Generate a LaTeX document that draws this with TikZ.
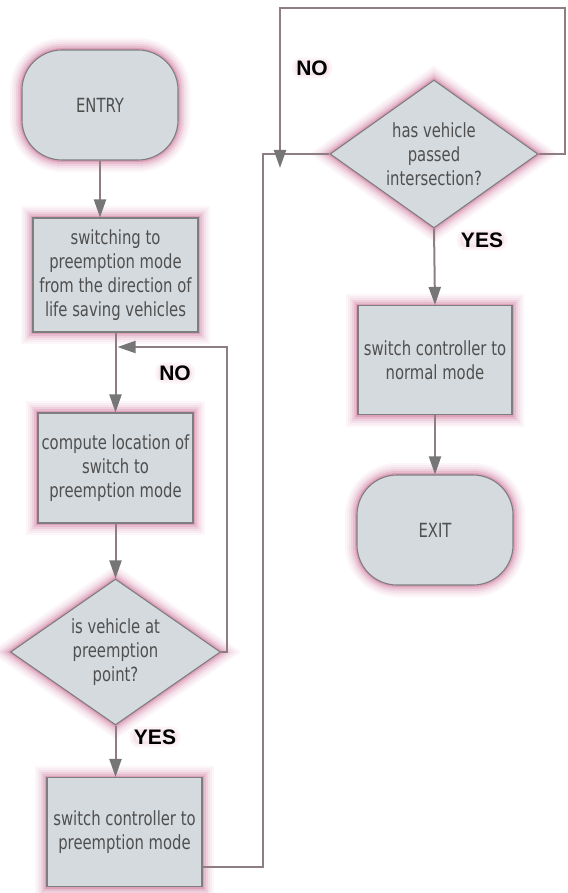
\documentclass[tikz,border=0pt]{standalone}
\usepackage{fontspec}
\setmainfont{DejaVu Sans}[FakeStretch=0.76]
\newfontfamily\labelfont{Liberation Sans}
\usetikzlibrary{arrows.meta,shapes.geometric}
\definecolor{boxfill}{HTML}{D5DADE}
\definecolor{boxline}{HTML}{7E7E7E}
\definecolor{glowpink}{HTML}{C8608A}
\definecolor{connline}{HTML}{8F7D84}
\definecolor{arrowgray}{HTML}{767676}
\definecolor{txtgray}{HTML}{4F4F4F}
\tikzset{
  glow/.style={
    preaction={draw=glowpink, line width=24pt, draw opacity=0.05},
    preaction={draw=glowpink, line width=20pt, draw opacity=0.06},
    preaction={draw=glowpink, line width=16pt, draw opacity=0.08},
    preaction={draw=glowpink, line width=12pt, draw opacity=0.12},
    preaction={draw=glowpink, line width=8pt, draw opacity=0.18},
    preaction={draw=glowpink, line width=4pt, draw opacity=0.30}},
  shapetext/.style={font=\fontsize{19.5}{24}\selectfont, text=txtgray, align=center},
  procbox/.style={glow, rectangle, draw=boxline, line width=1.1pt, fill=boxfill, shapetext, inner sep=0pt},
  termbox/.style={procbox, rounded corners=40pt},
  decbox/.style={glow, diamond, draw=boxline, line width=1.1pt, fill=boxfill, shapetext, inner sep=0pt, aspect=1.42},
  conn/.style={draw=connline, line width=2pt},
  arr/.style={conn, -{Triangle[width=12pt,length=18pt,color=arrowgray]}},
  yesno/.style={font=\labelfont\bfseries\fontsize{21}{24}\selectfont, text=black,
    inner xsep=1pt, inner ysep=0pt, rounded corners=6pt,
    preaction={draw=glowpink, line width=6pt, draw opacity=0.07},
    preaction={fill=glowpink, fill opacity=0.10}}
}
\begin{document}
\begin{tikzpicture}[x=1pt,y=-1pt]
\useasboundingbox[fill=white] (0,0) rectangle (567,893);

% nodes
\node[termbox, minimum width=156pt, minimum height=110pt] (entry) at (100,105) {ENTRY};
\node[procbox, minimum width=165pt, minimum height=114pt] (b1) at (115.5,275) {switching to\\preemption mode\\from the direction of\\life saving vehicles};
\node[procbox, minimum width=155pt, minimum height=110pt] (b2) at (115.5,468) {compute location of\\switch to\\preemption mode};
\node[decbox, minimum width=210pt, minimum height=146pt] (d1) at (115.5,652) {is vehicle at\\preemption\\point?};
\node[procbox, minimum width=155pt, minimum height=109pt] (b3) at (124.5,832) {switch controller to\\preemption mode};
\node[decbox, minimum width=208pt, minimum height=148pt] (d2) at (434,154) {has vehicle\\passed\\intersection?};
\node[procbox, minimum width=154pt, minimum height=109pt] (b4) at (435,360) {switch controller to\\normal mode};
\node[termbox, minimum width=156pt, minimum height=110pt] (exit) at (435,530) {EXIT};

% labels
\node[yesno] (no1) at (175,373) {NO};
\node[yesno] (yes1) at (155,737) {YES};
\node[yesno] (no2) at (312,68) {NO};
\node[yesno] (yes2) at (482,240) {YES};

% coordinates
\coordinate (j1) at (117.5,347);
\coordinate (lx) at (227,500);
\coordinate (rx) at (263,500);
\coordinate (tr) at (565,8);
\coordinate (tip2) at (280,168);

% connectors
\draw[arr] (entry.south) -- (entry.south |- b1.north);
\draw[arr] (b1.south) -- (b2.north);
\draw[arr] (b2.south) -- (d1.north);
\draw[arr] (d1.south) -- (d1.south |- b3.north);
\draw[arr] (d1.east) -| (lx) |- (j1);
\draw[conn] ([yshift=-35pt]b3.east) -| (rx) |- (d2.west);
\draw[arr] (d2.east) -| (tr) -| (tip2);
\draw[arr] (d2.south) -- (b4.north);
\draw[arr] (b4.south) -- (exit.north);
\end{tikzpicture}
\end{document}
